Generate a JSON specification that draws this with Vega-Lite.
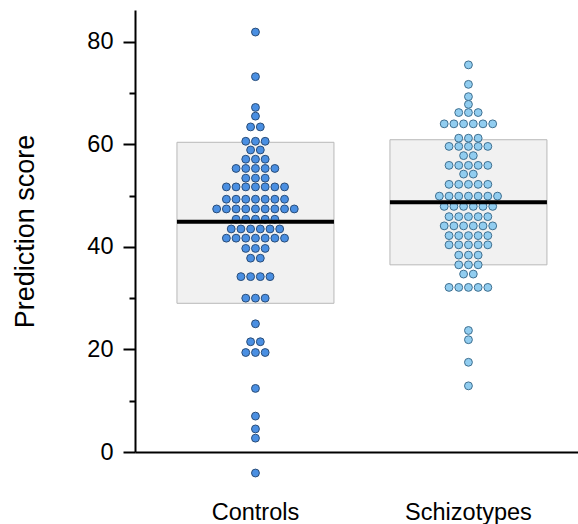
{
  "$schema": "https://vega.github.io/schema/vega-lite/v6.json",
  "autosize": "none",
  "width": 443,
  "height": 442,
  "padding": {"left": 135, "top": 10, "right": 0, "bottom": 72},
  "background": "white",
  "config": {
    "view": {"stroke": null},
    "font": "Liberation Sans",
    "axis": {"labelFont": "Liberation Sans", "titleFont": "Liberation Sans", "labelColor": "black", "titleColor": "black"}
  },
  "datasets": {
    "dots": [
      {"g": "Controls", "v": 81.9},
      {"g": "Controls", "v": 73.2},
      {"g": "Controls", "v": 67.2},
      {"g": "Controls", "v": 65.5},
      {"g": "Controls", "v": 63.4}, {"g": "Controls", "v": 63.4},
      {"g": "Controls", "v": 60.6}, {"g": "Controls", "v": 60.6}, {"g": "Controls", "v": 60.6},
      {"g": "Controls", "v": 58.9}, {"g": "Controls", "v": 58.9},
      {"g": "Controls", "v": 57.1}, {"g": "Controls", "v": 57.1}, {"g": "Controls", "v": 57.1},
      {"g": "Controls", "v": 55.3}, {"g": "Controls", "v": 55.3}, {"g": "Controls", "v": 55.3}, {"g": "Controls", "v": 55.3}, {"g": "Controls", "v": 55.3},
      {"g": "Controls", "v": 53.4}, {"g": "Controls", "v": 53.4}, {"g": "Controls", "v": 53.4},
      {"g": "Controls", "v": 51.7}, {"g": "Controls", "v": 51.7}, {"g": "Controls", "v": 51.7}, {"g": "Controls", "v": 51.7}, {"g": "Controls", "v": 51.7}, {"g": "Controls", "v": 51.7}, {"g": "Controls", "v": 51.7},
      {"g": "Controls", "v": 49.3}, {"g": "Controls", "v": 49.3}, {"g": "Controls", "v": 49.3}, {"g": "Controls", "v": 49.3}, {"g": "Controls", "v": 49.3}, {"g": "Controls", "v": 49.3}, {"g": "Controls", "v": 49.3},
      {"g": "Controls", "v": 47.4}, {"g": "Controls", "v": 47.4}, {"g": "Controls", "v": 47.4}, {"g": "Controls", "v": 47.4}, {"g": "Controls", "v": 47.4}, {"g": "Controls", "v": 47.4}, {"g": "Controls", "v": 47.4}, {"g": "Controls", "v": 47.4}, {"g": "Controls", "v": 47.4},
      {"g": "Controls", "v": 45.4}, {"g": "Controls", "v": 45.4}, {"g": "Controls", "v": 45.4}, {"g": "Controls", "v": 45.4}, {"g": "Controls", "v": 45.4},
      {"g": "Controls", "v": 43.5}, {"g": "Controls", "v": 43.5}, {"g": "Controls", "v": 43.5}, {"g": "Controls", "v": 43.5}, {"g": "Controls", "v": 43.5}, {"g": "Controls", "v": 43.5},
      {"g": "Controls", "v": 41.7}, {"g": "Controls", "v": 41.7}, {"g": "Controls", "v": 41.7}, {"g": "Controls", "v": 41.7}, {"g": "Controls", "v": 41.7}, {"g": "Controls", "v": 41.7}, {"g": "Controls", "v": 41.7},
      {"g": "Controls", "v": 39.7}, {"g": "Controls", "v": 39.7}, {"g": "Controls", "v": 39.7},
      {"g": "Controls", "v": 37.8}, {"g": "Controls", "v": 37.8},
      {"g": "Controls", "v": 34.2}, {"g": "Controls", "v": 34.2}, {"g": "Controls", "v": 34.2}, {"g": "Controls", "v": 34.2},
      {"g": "Controls", "v": 30.0}, {"g": "Controls", "v": 30.0}, {"g": "Controls", "v": 30.0},
      {"g": "Controls", "v": 25.0},
      {"g": "Controls", "v": 21.5}, {"g": "Controls", "v": 21.5},
      {"g": "Controls", "v": 19.4}, {"g": "Controls", "v": 19.4}, {"g": "Controls", "v": 19.4},
      {"g": "Controls", "v": 12.4},
      {"g": "Controls", "v": 7.0},
      {"g": "Controls", "v": 4.5},
      {"g": "Controls", "v": 2.7},
      {"g": "Controls", "v": -4.1},
      {"g": "Schizotypes", "v": 75.5},
      {"g": "Schizotypes", "v": 71.7},
      {"g": "Schizotypes", "v": 69.3},
      {"g": "Schizotypes", "v": 67.8},
      {"g": "Schizotypes", "v": 66.2}, {"g": "Schizotypes", "v": 66.2}, {"g": "Schizotypes", "v": 66.2},
      {"g": "Schizotypes", "v": 64.0}, {"g": "Schizotypes", "v": 64.0}, {"g": "Schizotypes", "v": 64.0}, {"g": "Schizotypes", "v": 64.0}, {"g": "Schizotypes", "v": 64.0}, {"g": "Schizotypes", "v": 64.0},
      {"g": "Schizotypes", "v": 61.2}, {"g": "Schizotypes", "v": 61.2}, {"g": "Schizotypes", "v": 61.2},
      {"g": "Schizotypes", "v": 59.6}, {"g": "Schizotypes", "v": 59.6}, {"g": "Schizotypes", "v": 59.6}, {"g": "Schizotypes", "v": 59.6}, {"g": "Schizotypes", "v": 59.6},
      {"g": "Schizotypes", "v": 57.8}, {"g": "Schizotypes", "v": 57.8},
      {"g": "Schizotypes", "v": 55.9}, {"g": "Schizotypes", "v": 55.9}, {"g": "Schizotypes", "v": 55.9}, {"g": "Schizotypes", "v": 55.9}, {"g": "Schizotypes", "v": 55.9},
      {"g": "Schizotypes", "v": 54.2}, {"g": "Schizotypes", "v": 54.2},
      {"g": "Schizotypes", "v": 52.2}, {"g": "Schizotypes", "v": 52.2}, {"g": "Schizotypes", "v": 52.2}, {"g": "Schizotypes", "v": 52.2}, {"g": "Schizotypes", "v": 52.2},
      {"g": "Schizotypes", "v": 49.9}, {"g": "Schizotypes", "v": 49.9}, {"g": "Schizotypes", "v": 49.9}, {"g": "Schizotypes", "v": 49.9}, {"g": "Schizotypes", "v": 49.9}, {"g": "Schizotypes", "v": 49.9}, {"g": "Schizotypes", "v": 49.9},
      {"g": "Schizotypes", "v": 47.9}, {"g": "Schizotypes", "v": 47.9}, {"g": "Schizotypes", "v": 47.9}, {"g": "Schizotypes", "v": 47.9}, {"g": "Schizotypes", "v": 47.9}, {"g": "Schizotypes", "v": 47.9},
      {"g": "Schizotypes", "v": 45.9}, {"g": "Schizotypes", "v": 45.9}, {"g": "Schizotypes", "v": 45.9}, {"g": "Schizotypes", "v": 45.9}, {"g": "Schizotypes", "v": 45.9},
      {"g": "Schizotypes", "v": 44.1}, {"g": "Schizotypes", "v": 44.1}, {"g": "Schizotypes", "v": 44.1}, {"g": "Schizotypes", "v": 44.1}, {"g": "Schizotypes", "v": 44.1}, {"g": "Schizotypes", "v": 44.1},
      {"g": "Schizotypes", "v": 42.2}, {"g": "Schizotypes", "v": 42.2}, {"g": "Schizotypes", "v": 42.2}, {"g": "Schizotypes", "v": 42.2}, {"g": "Schizotypes", "v": 42.2},
      {"g": "Schizotypes", "v": 40.4}, {"g": "Schizotypes", "v": 40.4}, {"g": "Schizotypes", "v": 40.4}, {"g": "Schizotypes", "v": 40.4}, {"g": "Schizotypes", "v": 40.4},
      {"g": "Schizotypes", "v": 38.4}, {"g": "Schizotypes", "v": 38.4}, {"g": "Schizotypes", "v": 38.4},
      {"g": "Schizotypes", "v": 36.5}, {"g": "Schizotypes", "v": 36.5}, {"g": "Schizotypes", "v": 36.5},
      {"g": "Schizotypes", "v": 34.7}, {"g": "Schizotypes", "v": 34.7},
      {"g": "Schizotypes", "v": 32.1}, {"g": "Schizotypes", "v": 32.1}, {"g": "Schizotypes", "v": 32.1}, {"g": "Schizotypes", "v": 32.1}, {"g": "Schizotypes", "v": 32.1},
      {"g": "Schizotypes", "v": 23.7},
      {"g": "Schizotypes", "v": 21.9},
      {"g": "Schizotypes", "v": 17.5},
      {"g": "Schizotypes", "v": 12.9}
    ],
    "summary": [
      {"g": "Controls", "lo": 29.0, "hi": 60.4, "med": 44.9},
      {"g": "Schizotypes", "lo": 36.5, "hi": 60.9, "med": 48.7}
    ]
  },
  "encoding": {
    "x": {
      "field": "g",
      "type": "nominal",
      "scale": {"domain": ["Controls", "Schizotypes"], "paddingInner": 0, "paddingOuter": 0.04, "align": 0.82},
      "axis": {
        "title": null,
        "labelAngle": 0,
        "labelFontSize": 23.5,
        "labelPadding": 48.5,
        "ticks": false,
        "tickSize": 0,
        "domainColor": "black",
        "domainWidth": 2
      }
    }
  },
  "layer": [
    {
      "data": {"name": "summary"},
      "mark": {"type": "bar", "fill": "#f1f1f1", "stroke": "#b8b8b8", "strokeWidth": 1, "width": 157},
      "encoding": {
        "y": {
          "field": "lo",
          "type": "quantitative",
          "scale": {"domain": [0, 86.2], "nice": false, "zero": false},
          "axis": {
            "title": "Prediction score",
            "titleFontSize": 27,
            "titleFontWeight": "normal",
            "titleX": -110,
            "titleBaseline": "middle",
            "values": [0, 10, 20, 30, 40, 50, 60, 70, 80],
            "labelExpr": "datum.value % 20 === 0 ? datum.label : ''",
            "labelFontSize": 23.5,
            "labelPadding": 10,
            "tickSize": {"condition": {"test": "datum.value % 20 === 0", "value": 12}, "value": 6},
            "tickColor": "black",
            "tickWidth": 2,
            "domainColor": "black",
            "domainWidth": 2,
            "grid": false
          }
        },
        "y2": {"field": "hi"}
      }
    },
    {
      "data": {"name": "dots"},
      "transform": [
        {"window": [{"op": "row_number", "as": "idx"}], "groupby": ["g", "v"]},
        {"joinaggregate": [{"op": "count", "as": "n"}], "groupby": ["g", "v"]},
        {"calculate": "datum.idx - (datum.n + 1) / 2", "as": "off"}
      ],
      "mark": {"type": "circle", "size": 62, "opacity": 1, "strokeWidth": 1},
      "encoding": {
        "y": {"field": "v", "type": "quantitative"},
        "xOffset": {"field": "off", "type": "quantitative", "scale": {"domain": [-10.98, 10.98]}},
        "fill": {
          "field": "g",
          "type": "nominal",
          "scale": {"domain": ["Controls", "Schizotypes"], "range": ["#4a8fe2", "#91cdf0"]},
          "legend": null
        },
        "stroke": {
          "field": "g",
          "type": "nominal",
          "scale": {"domain": ["Controls", "Schizotypes"], "range": ["#2a4d78", "#3f6f8f"]},
          "legend": null
        }
      }
    },
    {
      "data": {"name": "summary"},
      "mark": {"type": "tick", "color": "black", "size": 157, "thickness": 4, "orient": "horizontal", "opacity": 1},
      "encoding": {
        "y": {"field": "med", "type": "quantitative"}
      }
    }
  ]
}
